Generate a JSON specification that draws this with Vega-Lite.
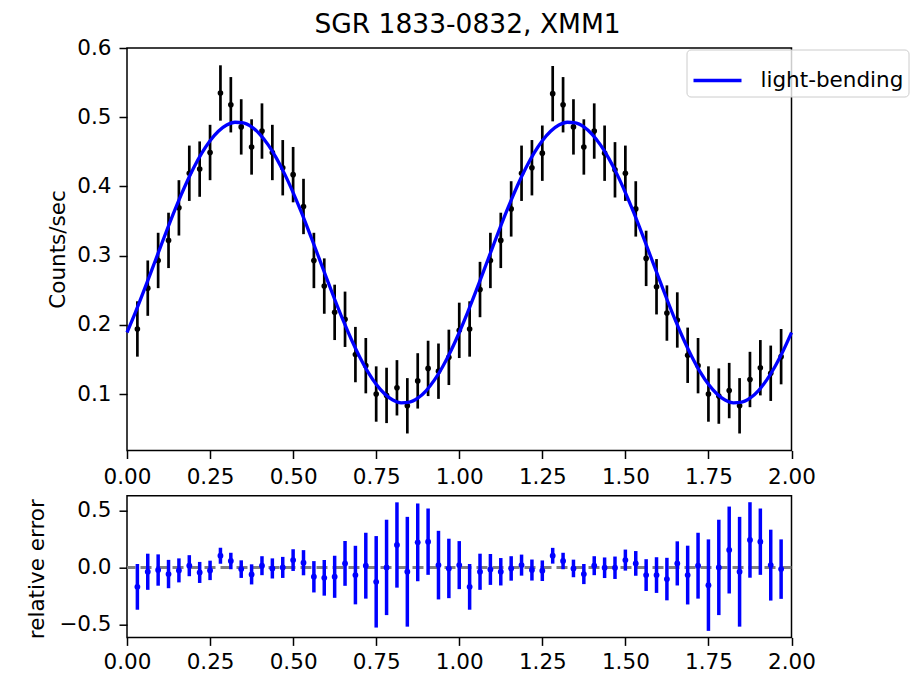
{
  "$schema": "https://vega.github.io/schema/vega-lite/v6.json",
  "padding": {"left": 26, "top": 11, "right": 0, "bottom": 0},
  "title": {"text": "SGR 1833-0832, XMM1", "anchor": "middle", "font": "DejaVu Sans", "fontSize": 26.5, "fontWeight": "normal", "color": "black", "offset": -2},
  "datasets": {
    "obs": [
      {"phase": 0.03125, "rate": 0.194, "err": 0.04, "res": -0.170, "rerr": 0.200},
      {"phase": 0.0625, "rate": 0.253, "err": 0.04, "res": -0.038, "rerr": 0.158},
      {"phase": 0.09375, "rate": 0.293, "err": 0.04, "res": -0.023, "rerr": 0.137},
      {"phase": 0.125, "rate": 0.322, "err": 0.04, "res": -0.058, "rerr": 0.124},
      {"phase": 0.15625, "rate": 0.369, "err": 0.04, "res": -0.026, "rerr": 0.105},
      {"phase": 0.1875, "rate": 0.419, "err": 0.04, "res": 0.015, "rerr": 0.092},
      {"phase": 0.21875, "rate": 0.425, "err": 0.04, "res": -0.044, "rerr": 0.092},
      {"phase": 0.25, "rate": 0.449, "err": 0.04, "res": -0.026, "rerr": 0.085},
      {"phase": 0.28125, "rate": 0.535, "err": 0.04, "res": 0.102, "rerr": 0.070},
      {"phase": 0.3125, "rate": 0.518, "err": 0.04, "res": 0.056, "rerr": 0.072},
      {"phase": 0.34375, "rate": 0.486, "err": 0.04, "res": -0.015, "rerr": 0.077},
      {"phase": 0.375, "rate": 0.457, "err": 0.04, "res": -0.061, "rerr": 0.088},
      {"phase": 0.40625, "rate": 0.480, "err": 0.04, "res": 0.015, "rerr": 0.083},
      {"phase": 0.4375, "rate": 0.449, "err": 0.04, "res": -0.009, "rerr": 0.088},
      {"phase": 0.46875, "rate": 0.427, "err": 0.04, "res": 0.000, "rerr": 0.092},
      {"phase": 0.5, "rate": 0.417, "err": 0.04, "res": 0.064, "rerr": 0.095},
      {"phase": 0.53125, "rate": 0.371, "err": 0.04, "res": 0.041, "rerr": 0.110},
      {"phase": 0.5625, "rate": 0.293, "err": 0.04, "res": -0.082, "rerr": 0.137},
      {"phase": 0.59375, "rate": 0.256, "err": 0.04, "res": -0.091, "rerr": 0.156},
      {"phase": 0.625, "rate": 0.218, "err": 0.04, "res": -0.082, "rerr": 0.184},
      {"phase": 0.65625, "rate": 0.208, "err": 0.04, "res": 0.035, "rerr": 0.196},
      {"phase": 0.6875, "rate": 0.157, "err": 0.04, "res": -0.067, "rerr": 0.256},
      {"phase": 0.71875, "rate": 0.141, "err": 0.04, "res": 0.015, "rerr": 0.288},
      {"phase": 0.75, "rate": 0.100, "err": 0.04, "res": -0.126, "rerr": 0.400},
      {"phase": 0.78125, "rate": 0.098, "err": 0.04, "res": 0.000, "rerr": 0.417},
      {"phase": 0.8125, "rate": 0.109, "err": 0.04, "res": 0.196, "rerr": 0.373},
      {"phase": 0.84375, "rate": 0.083, "err": 0.04, "res": -0.038, "rerr": 0.480},
      {"phase": 0.875, "rate": 0.119, "err": 0.04, "res": 0.219, "rerr": 0.340},
      {"phase": 0.90625, "rate": 0.137, "err": 0.04, "res": 0.225, "rerr": 0.290},
      {"phase": 0.9375, "rate": 0.133, "err": 0.04, "res": 0.020, "rerr": 0.300},
      {"phase": 0.96875, "rate": 0.153, "err": 0.04, "res": -0.009, "rerr": 0.260},
      {"phase": 1.0, "rate": 0.192, "err": 0.04, "res": 0.020, "rerr": 0.210},
      {"phase": 1.03125, "rate": 0.194, "err": 0.04, "res": -0.170, "rerr": 0.200},
      {"phase": 1.0625, "rate": 0.251, "err": 0.04, "res": -0.038, "rerr": 0.158},
      {"phase": 1.09375, "rate": 0.293, "err": 0.04, "res": -0.018, "rerr": 0.135},
      {"phase": 1.125, "rate": 0.322, "err": 0.04, "res": -0.038, "rerr": 0.120},
      {"phase": 1.15625, "rate": 0.3675, "err": 0.04, "res": -0.009, "rerr": 0.107},
      {"phase": 1.1875, "rate": 0.419, "err": 0.04, "res": 0.020, "rerr": 0.092},
      {"phase": 1.21875, "rate": 0.427, "err": 0.04, "res": -0.023, "rerr": 0.092},
      {"phase": 1.25, "rate": 0.448, "err": 0.04, "res": -0.029, "rerr": 0.090},
      {"phase": 1.28125, "rate": 0.534, "err": 0.04, "res": 0.102, "rerr": 0.069},
      {"phase": 1.3125, "rate": 0.518, "err": 0.04, "res": 0.056, "rerr": 0.072},
      {"phase": 1.34375, "rate": 0.486, "err": 0.04, "res": -0.009, "rerr": 0.077},
      {"phase": 1.375, "rate": 0.457, "err": 0.04, "res": -0.058, "rerr": 0.088},
      {"phase": 1.40625, "rate": 0.480, "err": 0.04, "res": 0.015, "rerr": 0.083},
      {"phase": 1.4375, "rate": 0.448, "err": 0.04, "res": -0.003, "rerr": 0.090},
      {"phase": 1.46875, "rate": 0.424, "err": 0.04, "res": -0.003, "rerr": 0.098},
      {"phase": 1.5, "rate": 0.419, "err": 0.04, "res": 0.064, "rerr": 0.092},
      {"phase": 1.53125, "rate": 0.3675, "err": 0.04, "res": 0.035, "rerr": 0.108},
      {"phase": 1.5625, "rate": 0.296, "err": 0.04, "res": -0.067, "rerr": 0.139},
      {"phase": 1.59375, "rate": 0.255, "err": 0.04, "res": -0.067, "rerr": 0.156},
      {"phase": 1.625, "rate": 0.217, "err": 0.04, "res": -0.102, "rerr": 0.186},
      {"phase": 1.65625, "rate": 0.207, "err": 0.04, "res": 0.035, "rerr": 0.193},
      {"phase": 1.6875, "rate": 0.156, "err": 0.04, "res": -0.067, "rerr": 0.257},
      {"phase": 1.71875, "rate": 0.141, "err": 0.04, "res": 0.015, "rerr": 0.288},
      {"phase": 1.75, "rate": 0.100, "err": 0.04, "res": -0.155, "rerr": 0.400},
      {"phase": 1.78125, "rate": 0.097, "err": 0.04, "res": 0.000, "rerr": 0.417},
      {"phase": 1.8125, "rate": 0.105, "err": 0.04, "res": 0.152, "rerr": 0.380},
      {"phase": 1.84375, "rate": 0.083, "err": 0.04, "res": -0.038, "rerr": 0.480},
      {"phase": 1.875, "rate": 0.121, "err": 0.04, "res": 0.240, "rerr": 0.330},
      {"phase": 1.90625, "rate": 0.138, "err": 0.04, "res": 0.225, "rerr": 0.290},
      {"phase": 1.9375, "rate": 0.130, "err": 0.04, "res": 0.020, "rerr": 0.310},
      {"phase": 1.96875, "rate": 0.154, "err": 0.04, "res": -0.015, "rerr": 0.260}
    ],
    "model": [
      {"phase": 0.0, "rate": 0.1889}, {"phase": 0.025, "rate": 0.2176}, {"phase": 0.05, "rate": 0.2482}, {"phase": 0.075, "rate": 0.2798},
      {"phase": 0.1, "rate": 0.3116}, {"phase": 0.125, "rate": 0.3430}, {"phase": 0.15, "rate": 0.3730}, {"phase": 0.175, "rate": 0.4009},
      {"phase": 0.2, "rate": 0.4261}, {"phase": 0.225, "rate": 0.4480}, {"phase": 0.25, "rate": 0.4660}, {"phase": 0.275, "rate": 0.4797},
      {"phase": 0.3, "rate": 0.4887}, {"phase": 0.325, "rate": 0.4927}, {"phase": 0.35, "rate": 0.4918}, {"phase": 0.375, "rate": 0.4860},
      {"phase": 0.4, "rate": 0.4753}, {"phase": 0.425, "rate": 0.4600}, {"phase": 0.45, "rate": 0.4405}, {"phase": 0.475, "rate": 0.4174},
      {"phase": 0.5, "rate": 0.3911}, {"phase": 0.525, "rate": 0.3624}, {"phase": 0.55, "rate": 0.3318}, {"phase": 0.575, "rate": 0.3002},
      {"phase": 0.6, "rate": 0.2684}, {"phase": 0.625, "rate": 0.2370}, {"phase": 0.65, "rate": 0.2070}, {"phase": 0.675, "rate": 0.1791},
      {"phase": 0.7, "rate": 0.1539}, {"phase": 0.725, "rate": 0.1320}, {"phase": 0.75, "rate": 0.1140}, {"phase": 0.775, "rate": 0.1003},
      {"phase": 0.8, "rate": 0.0913}, {"phase": 0.825, "rate": 0.0873}, {"phase": 0.85, "rate": 0.0882}, {"phase": 0.875, "rate": 0.0940},
      {"phase": 0.9, "rate": 0.1047}, {"phase": 0.925, "rate": 0.1200}, {"phase": 0.95, "rate": 0.1395}, {"phase": 0.975, "rate": 0.1626},
      {"phase": 1.0, "rate": 0.1889}, {"phase": 1.025, "rate": 0.2176}, {"phase": 1.05, "rate": 0.2482}, {"phase": 1.075, "rate": 0.2798},
      {"phase": 1.1, "rate": 0.3116}, {"phase": 1.125, "rate": 0.3430}, {"phase": 1.15, "rate": 0.3730}, {"phase": 1.175, "rate": 0.4009},
      {"phase": 1.2, "rate": 0.4261}, {"phase": 1.225, "rate": 0.4480}, {"phase": 1.25, "rate": 0.4660}, {"phase": 1.275, "rate": 0.4797},
      {"phase": 1.3, "rate": 0.4887}, {"phase": 1.325, "rate": 0.4927}, {"phase": 1.35, "rate": 0.4918}, {"phase": 1.375, "rate": 0.4860},
      {"phase": 1.4, "rate": 0.4753}, {"phase": 1.425, "rate": 0.4600}, {"phase": 1.45, "rate": 0.4405}, {"phase": 1.475, "rate": 0.4174},
      {"phase": 1.5, "rate": 0.3911}, {"phase": 1.525, "rate": 0.3624}, {"phase": 1.55, "rate": 0.3318}, {"phase": 1.575, "rate": 0.3002},
      {"phase": 1.6, "rate": 0.2684}, {"phase": 1.625, "rate": 0.2370}, {"phase": 1.65, "rate": 0.2070}, {"phase": 1.675, "rate": 0.1791},
      {"phase": 1.7, "rate": 0.1539}, {"phase": 1.725, "rate": 0.1320}, {"phase": 1.75, "rate": 0.1140}, {"phase": 1.775, "rate": 0.1003},
      {"phase": 1.8, "rate": 0.0913}, {"phase": 1.825, "rate": 0.0873}, {"phase": 1.85, "rate": 0.0882}, {"phase": 1.875, "rate": 0.0940},
      {"phase": 1.9, "rate": 0.1047}, {"phase": 1.925, "rate": 0.1200}, {"phase": 1.95, "rate": 0.1395}, {"phase": 1.975, "rate": 0.1626},
      {"phase": 2.0, "rate": 0.1889}
    ]
  },
  "spacing": 44.7,
  "bounds": "flush",
  "vconcat": [
    {
      "width": 664.5,
      "height": 402.5,
      "encoding": {
        "x": {"field": "phase", "type": "quantitative", "scale": {"domain": [0, 2], "nice": false, "zero": false},
              "axis": {"values": [0, 0.25, 0.5, 0.75, 1, 1.25, 1.5, 1.75, 2], "format": ".2f", "title": null}},
        "y": {"field": "rate", "type": "quantitative", "scale": {"domain": [0.0184, 0.6], "nice": false, "zero": false},
              "axis": {"values": [0.1, 0.2, 0.3, 0.4, 0.5, 0.6], "format": ".1f", "title": "Counts/sec", "titleX": -62.5, "titleY": 201, "titleBaseline": "alphabetic", "titleAngle": -90}}
      },
      "layer": [
        {
          "data": {"name": "obs"},
          "mark": {"type": "errorbar", "color": "black", "thickness": 2.7},
          "encoding": {"yError": {"field": "err"}}
        },
        {
          "data": {"name": "obs"},
          "mark": {"type": "point", "filled": true, "color": "black", "size": 32, "opacity": 1}
        },
        {
          "data": {"name": "model"},
          "mark": {"type": "line", "strokeWidth": 3.3, "interpolate": "monotone"},
          "encoding": {
            "color": {"datum": "light-bending", "type": "nominal", "scale": {"range": ["#0000ff"]},
                      "legend": {"orient": "none", "legendX": 559.5, "legendY": 1.5, "title": null, "symbolType": "stroke", "symbolSize": 2304, "symbolStrokeWidth": 3.3,
                                 "labelFont": "DejaVu Sans", "labelFontSize": 21.5, "labelColor": "black", "padding": 5, "labelOffset": 17,
                                 "strokeColor": "#cccccc", "fillColor": "rgba(255,255,255,0.8)", "cornerRadius": 4}}
          }
        }
      ]
    },
    {
      "width": 664.5,
      "height": 141.7,
      "layer": [
        {
          "data": {"values": [{"ref": 0}]},
          "mark": {"type": "rule", "color": "#808080", "strokeWidth": 3, "strokeDash": [11, 5]},
          "encoding": {"y": {"field": "ref", "type": "quantitative", "scale": {"domain": [-0.612, 0.627], "nice": false, "zero": false},
                             "axis": {"values": [-0.5, 0, 0.5], "format": ".1f", "title": "relative error", "titleX": -83.2, "titleY": 73, "titleBaseline": "alphabetic", "titleAngle": -90}}}
        },
        {
          "data": {"name": "obs"},
          "mark": {"type": "errorbar", "color": "#0000ff", "thickness": 3.5},
          "encoding": {
            "x": {"field": "phase", "type": "quantitative", "scale": {"domain": [0, 2], "nice": false, "zero": false},
                  "axis": {"values": [0, 0.25, 0.5, 0.75, 1, 1.25, 1.5, 1.75, 2], "format": ".2f", "title": null, "labelPadding": 6}},
            "y": {"field": "res", "type": "quantitative", "title": "relative error"},
            "yError": {"field": "rerr"}
          }
        },
        {
          "data": {"name": "obs"},
          "mark": {"type": "point", "filled": true, "color": "#0000ff", "size": 34, "opacity": 1},
          "encoding": {
            "x": {"field": "phase", "type": "quantitative"},
            "y": {"field": "res", "type": "quantitative", "title": "relative error"}
          }
        }
      ]
    }
  ],
  "config": {
    "background": "white",
    "view": {"stroke": "black", "strokeWidth": 1.5},
    "axis": {"labelFont": "DejaVu Sans", "labelFontSize": 21.5, "labelColor": "black", "titleFont": "DejaVu Sans", "titleFontSize": 21.5, "titleFontWeight": "normal", "titleColor": "black",
             "tickColor": "black", "tickSize": 8, "tickWidth": 1.5, "domain": false, "grid": false, "labelPadding": 8, "labelFlush": false}
  }
}
